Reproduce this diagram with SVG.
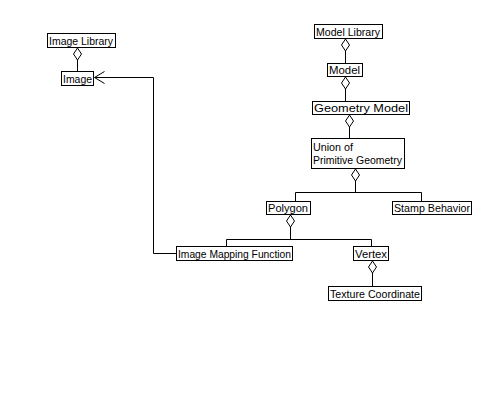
<svg xmlns="http://www.w3.org/2000/svg" width="500" height="400" viewBox="0 0 500 400">
<style>
.box{fill:#fff;stroke:#000;stroke-width:1}
.t{font-family:"Liberation Sans",Arial,sans-serif;font-size:11px;fill:#000}
.c{fill:none;stroke:#000;stroke-width:1}
.d{fill:#fff;stroke:#000;stroke-width:1}
</style>
<rect width="500" height="400" fill="#fff"/>
<g id="connectors">
<path class="c" d="M77.5 60 V71.5"/>
<path class="d" d="M77.5 48 L81.5 54 L77.5 60 L73.5 54 Z"/>
<path class="c" d="M345.5 51 V63.5"/>
<path class="d" d="M345.5 39 L349.5 45 L345.5 51 L341.5 45 Z"/>
<path class="c" d="M345.5 89 V101.5"/>
<path class="d" d="M345.5 77 L349.5 83 L345.5 89 L341.5 83 Z"/>
<path class="c" d="M349.5 127 V138.5"/>
<path class="d" d="M349.5 115 L353.5 121 L349.5 127 L345.5 121 Z"/>
<path class="c" d="M355.5 181 V192.5 M295.5 201.5 V192.5 H421.5 V201.5"/>
<path class="d" d="M355.5 169 L359.5 175 L355.5 181 L351.5 175 Z"/>
<path class="c" d="M290.5 227 V239.5 M226.5 246.5 V239.5 H371.5 V246.5"/>
<path class="d" d="M290.5 215 L294.5 221 L290.5 227 L286.5 221 Z"/>
<path class="c" d="M372.5 273 V286.5"/>
<path class="d" d="M372.5 261 L376.5 267 L372.5 273 L368.5 267 Z"/>
<path class="c" d="M176.5 253.5 H153.5 V77.5 H94.5 M104.5 71.5 L94.5 77.5 L104.5 83.5"/>
</g>
<g id="image-library"><rect class="box" x="47.5" y="33.5" width="68" height="14"/><text class="t" x="49" y="45" textLength="64" lengthAdjust="spacingAndGlyphs">Image Library</text></g>
<g id="image"><rect class="box" x="61.5" y="71.5" width="32" height="14"/><text class="t" x="63" y="83" textLength="29" lengthAdjust="spacingAndGlyphs">Image</text></g>
<g id="model-library"><rect class="box" x="314.5" y="24.5" width="68" height="14"/><text class="t" x="316" y="36" textLength="64" lengthAdjust="spacingAndGlyphs">Model Library</text></g>
<g id="model"><rect class="box" x="327.5" y="63.5" width="35" height="13"/><text class="t" x="329" y="74" textLength="31" lengthAdjust="spacingAndGlyphs">Model</text></g>
<g id="geometry-model"><rect class="box" x="312.5" y="101.5" width="97" height="13"/><text class="t" x="314" y="112" textLength="94" lengthAdjust="spacingAndGlyphs">Geometry Model</text></g>
<g id="union"><rect class="box" x="311.5" y="138.5" width="93" height="30"/><text class="t" x="313" y="151" textLength="40" lengthAdjust="spacingAndGlyphs">Union of</text><text class="t" x="313" y="164" textLength="89" lengthAdjust="spacingAndGlyphs">Primitive Geometry</text></g>
<g id="polygon"><rect class="box" x="266.5" y="201.5" width="44" height="13"/><text class="t" x="268" y="212" textLength="40" lengthAdjust="spacingAndGlyphs">Polygon</text></g>
<g id="stamp-behavior"><rect class="box" x="392.5" y="201.5" width="79" height="13"/><text class="t" x="394" y="212" textLength="76" lengthAdjust="spacingAndGlyphs">Stamp Behavior</text></g>
<g id="image-mapping-function"><rect class="box" x="176.5" y="246.5" width="116" height="14"/><text class="t" x="178" y="258" textLength="113" lengthAdjust="spacingAndGlyphs">Image Mapping Function</text></g>
<g id="vertex"><rect class="box" x="353.5" y="246.5" width="35" height="14"/><text class="t" x="355" y="258" textLength="32" lengthAdjust="spacingAndGlyphs">Vertex</text></g>
<g id="texture-coordinate"><rect class="box" x="328.5" y="286.5" width="93" height="14"/><text class="t" x="330" y="298" textLength="90" lengthAdjust="spacingAndGlyphs">Texture Coordinate</text></g>
</svg>
